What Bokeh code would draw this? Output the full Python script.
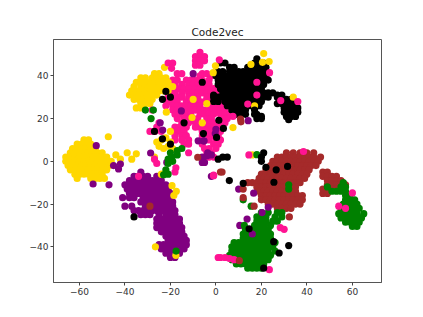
from bokeh.plotting import figure
from bokeh.embed import file_html
from bokeh.resources import INLINE
from bokeh.models import FixedTicker

title = "Code2vec"
x_ticks = [-60, -40, -20, 0, 20, 40, 60]
y_ticks = [-40, -20, 0, 20, 40]
tick_text = {-60: "\u221260", -40: "\u221240", -20: "\u221220", 0: "0", 20: "20", 40: "40", 60: "60"}

# clusters, as rows {y: [x, ...]}
gold_rows = {
 10:[-58,-56], 8:[-61,-59,-57,-55], 6:[-63,-61,-59,-57,-55,-53], 4:[-64,-62,-60,-58,-56,-54,-52,-50],
 2:[-66,-64,-62,-60,-58,-56,-54,-52,-50,-48], 0:[-66,-64,-62,-60,-58,-56,-54,-52,-50,-48,-46],
 -2:[-65,-63,-61,-59,-57,-55,-53,-51,-49,-47], -4:[-64,-62,-60,-58,-56,-54,-52,-50,-48], -6:[-62,-60,-58,-56,-54,-52,-50],
 -8:[-61,-55,-53,-51,-49],
 41:[-27,-25], 39:[-33,-31,-28,-26,-24,-22], 37:[-35,-33,-31,-29,-27,-25,-23,-21], 35:[-36,-33,-31,-29,-27,-25,-23,-21,-19],
 33:[-37,-35,-33,-31,-29,-27,-25,-23,-21], 31:[-38,-36,-34,-32,-30,-28,-26], 29:[-36,-34,-32,-30,-28], 27:[-33,-31,-29], 25:[-35,-33],
}
pink_rows = {
 51:[-7], 49:[-9,-7,-5], 47:[-9,-7,-5], 45:[-9,-7], 41:[-17,-15,-6,-4], 40:[-7,-2], 38:[-19,-17,-13,-11,-9,-6,-3],
 36:[-18,-15,-12,-10,-8,-5,-3], 34:[-18,-16,-14,-12,-9,-7,-5,-3,-1], 32:[-20,-18,-15,-12,-10,-8,-6,-4,-2,0],
 30:[-21,-19,-17,-15,-12,-10,-8,-4,-2,0], 28:[-21,-19,-17,-13,-11,-9,-7,-5,-3,1,3],
 26:[-22,-19,-17,-15,-13,-11,-9,-7,-3,-1,1,3], 24:[-19,-17,-13,-11,-9,-7,-5,-2,0,2,4],
 22:[-18,-16,-13,-11,-7,-5,-3,-1,2,4,6], 20:[-17,-14,-12,-10,-8,-4,-2,3,5], 18:[-25,-15,-12,-9,-3,-1,2,4],
 16:[-26,-18,-16,-13,-7,-5,-3,-1,1], 14:[-29,-27,-24,-18,-16,-14,-6,-4,-2,0,2], 12:[-18,-15,-13,-6,-3,-1,1],
 10:[-18,-15,-12,-6,-3,0,2], 8:[-14,-12,-6,-1,1], 6:[-5,-3,0], 4:[-4,-2], 2:[-3,-1],
}
purple_rows = {
 -5:[-33], -7:[-36,-34,-32,-30,-26], -9:[-38,-36,-34,-32,-30,-28,-26,-24], -11:[-40,-38,-36,-34,-32,-30,-28,-26,-24,-22],
 -13:[-39,-37,-35,-33,-31,-29,-27,-25,-23,-21], -15:[-38,-36,-34,-32,-30,-28,-26,-24,-22,-20],
 -17:[-41,-38,-36,-32,-30,-28,-26,-24,-22,-20], -19:[-33,-31,-29,-27,-25,-23,-21,-19], -21:[-40,-37,-31,-29,-27,-25,-23,-21,-19],
 -23:[-36,-34,-32,-30,-28,-26,-24,-22,-20,-18], -25:[-33,-31,-29,-25,-22,-20,-18], -27:[-26,-24,-22,-20,-18,-16],
 -29:[-26,-24,-22,-20,-18,-16], -31:[-26,-24,-22,-20,-18,-16,-15], -33:[-24,-22,-20,-18,-16,-15], -35:[-22,-20,-18,-16,-14],
 -37:[-21,-19,-17,-15,-13], -39:[-25,-23,-21,-19,-17,-15,-13], -41:[-24,-22,-20,-18,-16,-14], -43:[-22,-20,-18,-16], -45:[-20,-18],
}
brown_rows = {
 4:[31,34,37,40,43], 2:[27,29,31,33,35,37,39,41,43,46], 0:[25,27,29,31,33,35,37,39,41,43,45], -2:[24,26,28,30,32,34,36,38,40,42,44],
 -4:[22,24,27,29,31,33,35,37,39,41], -6:[20,22,24,26,28,30,32,34,36,38,40], -8:[19,21,23,25,27,29,31,33,35,37,39],
 -10:[14,16,18,20,22,24,26,28,30,32,35,37], -12:[18,20,22,24,26,28,30,33,35], -14:[19,21,23,25,27,29,31,33,35],
 -16:[20,22,24,26,28,30,32,34,36,38], -18:[20,22,24,26,28,30,32,34,36,38], -20:[23,25,27,29,31,33,35,37], -22:[27,29,31,33],
 -5:[47,49], -7:[47,49,51,53], -9:[49,51,53,55], -11:[49,51,53,55,57], -13:[47,49,51,53], -15:[47,49],
}
green_rows = {
 -24:[20,23,27], -26:[18,20,22,26,29], -28:[18,20,22,25,27], -30:[17,19,21,24], -32:[13,15,17,19,21,23], -34:[12,14,16,18,20,22,24],
 -36:[12,14,16,18,20,22,24], -38:[8,10,12,14,16,18,20,22,24,26], -40:[7,9,11,13,15,17,19,21,23,25], -42:[7,9,11,13,15,17,19,21,23,26],
 -44:[6,8,10,12,14,16,18,20,22,24], -46:[7,9,11,13,15,17,19,21,23], -48:[9,11,13,15,17,19,21], -50:[14,16,18,20],
 -10:[56], -12:[49,55,57], -14:[51,53,55,57], -16:[57,59], -18:[57,59,61], -20:[56,58,60,62], -22:[55,57,59,61,63],
 -24.5:[54,56,58,60,62,65], -26.5:[55,57,59,61,63,64], -28.5:[57,59,61,63], -30.5:[60,62],
}
black_rows = {
 48:[18], 46:[2,4,17,19,21], 44:[6,8,14,16,18,20,22], 42:[1,3,6,8,10,12,14,16,18,20,22], 40:[0,2,4,6,8,10,12,14,16,18,20,22],
 38:[1,3,5,7,9,11,13,15,17,19,21,23], 36:[1,3,5,7,9,11,13,15,17,19,21], 34:[2,4,6,8,10,12,14,16,18,20], 32:[3,5,7,9,11,13,15,17,19,21,23,25],
 30:[-1,1,3,5,7,9,11,13,15,17,19,21,23,27], 28:[-1,1,4,6,8,10,12,14,16,18,20], 26:[5,7,9,11,13,15,17,19], 24:[7,9,11,13], 22:[9,11,13,17], 20:[18,20],
 31:[27,29], 29:[29,31,33], 27:[27,29,31,33,35], 25:[30,32,34,36], 23:[30,32,34,36], 21:[31,33,35], 19.5:[32],
}
# single points lying on top of the clusters
gold_top = [(-22.6,44),(-47.3,11.5),(-39,4),(-35,3.5),(-37,1),(-42,1),(-44,3),(-27,2),(-21.8,23),(-10.5,20.5),(-6,18),(-24,10),(-22,11),(-20,9),(-25,7),(-23,6),(-21,7),(-26,9),(-19,6),(-20,14),(-10,29),(-4,27),
            (21,50.4),(20.5,46.3),(23.4,46.7),(15.4,45.4),(-0.2,44.7),(-1.2,41.5),(7.5,15.8),(17,26),(34,30),(-24,-6),(-19.3,-11.4),(-17.4,-14),(-18.5,-16),(-26.6,-40),(-17.6,-44),(16,3)]
purple_top = [(-52.6,7.3),(-10,41),(-15.2,23.6),(-24.5,18),(-23.4,14.6),(-28.7,3.9),(-7.8,9.6),(-5.2,9.6),(0,15),(-5.4,9.5),(-0.3,13),(-3.6,4),(-3.9,2.6),(-5,-0.5),(14.2,19),
              (-42,-1.3),(-45,-2),(-42.8,-3.6),(-54,-10.6),(-47,-11),(-21.6,-0.5),(-6,-0.5),(-2,-7),(10,-13),(16.6,-14.9),(23,-21.5),(20.3,-24),(13.7,-27),(10.5,-30),(16,-34),(-2,3),(-6,2)]
pink_top = [(-21,46),(-19,46),(-19.5,43.5),(-27,1),(-26,-1),(-17.6,-3),(-18,-5),(-34,-7),(-12,4),(-1,-6.5),(1,-45),(-1,-6.7),(38.5,4.6),(60,-14.8),(54,-21),(57,-22),(28.3,-31),(30,-31.8),
            (2,-45),(4,-45),(6,-45.5),(8,-46),(23.5,-50.7),(14.5,3),(1.5,47.5),(23.6,41.5),(18,37),(18,31),(28.5,28.4),(36,28),(14,26.8),(7.5,21),(-28,24),(-9,16)]
green_top = [(-28.5,20),(-27.5,24),(-31,24),(-23,-6.3),(-21,-6),(-22,-4),(-19.4,2),(-17,3),(-21,1),(-19,0),(-20,4),(-17,5),(-15,6),(-21,-1),(-17.5,-42),(12,-18),(15.5,-21),(29,-24),(12.5,-30),(32,-11),(32,-13),(18,3.1)]
brown_top = [(-8,1.9),(-29,-21),(2.7,-5),(10.8,19.8),(11,18.5),(12,-13),(12,-17),(16.8,-21),(32.3,-26),(10.3,-46.5),(2,-5)]
black_top = [(5.9,-9),(12,-10.3),(25.5,-9.8),(26.5,-4),(22,-2.8),(31.5,-2.4),(20,2),(20,0),(21,4),(1,1),(3,2),(5,2),(-36,-26),(1.3,19.2),(3.3,15.4),(0.3,11.2),
             (-22,32.7),(-23.5,29),(-20,30),(-6,37),(-1,31),(-14,18),(-27,14),(-23.5,10.5),(-20,8),(-5.5,13),(14.6,-31.6),(25.4,-37.6),(32,-39.4),(27.8,-42.9),(21,-50),(18,22),(20,21),(17,24)]

p = figure(width=415, height=309, frame_width=328, frame_height=243, x_range=(-71.4, 72.8), y_range=(-56.7, 57),
           output_backend="svg", toolbar_location=None, min_border_left=53, min_border_right=34, min_border_top=39, min_border_bottom=27)
p.title.text = title
p.title.align = "center"
p.title.text_font = "DejaVu Sans"
p.title.text_font_size = "10.5px"
p.title.text_font_style = "normal"
p.title.text_color = "#222222"
p.title.standoff = 4
p.grid.visible = False
p.outline_line_color = "#555555"
p.outline_line_width = 1
for ax, tks in ((p.xaxis[0], x_ticks), (p.yaxis[0], y_ticks)):
    ax.ticker = FixedTicker(ticks=tks)
    ax.major_label_overrides = tick_text
    ax.minor_tick_line_color = None
    ax.major_tick_in = 0
    ax.major_tick_out = 3
    ax.major_tick_line_color = "#444444"
    ax.axis_line_color = "#555555"
    ax.major_label_text_font = "DejaVu Sans"
    ax.major_label_text_font_size = "9px"
    ax.major_label_text_color = "#333333"
    ax.major_label_standoff = 2

def draw_rows(rows, color):
    xs = [x for row in rows.values() for x in row]
    ys = [y for y, row in rows.items() for _ in row]
    p.scatter(xs, ys, size=7.2, color=color, line_width=0)

def draw(pts, color):
    p.scatter([a for a, _ in pts], [b for _, b in pts], size=7.2, color=color, line_width=0)

for rows, color in ((pink_rows, "deeppink"), (gold_rows, "gold"), (purple_rows, "purple"), (brown_rows, "brown"), (green_rows, "green"), (black_rows, "black")):
    draw_rows(rows, color)
for pts, color in ((gold_top, "gold"), (purple_top, "purple"), (pink_top, "deeppink"), (green_top, "green"), (brown_top, "brown"), (black_top, "black")):
    draw(pts, color)

open("out.html", "w").write(file_html(p, INLINE))
